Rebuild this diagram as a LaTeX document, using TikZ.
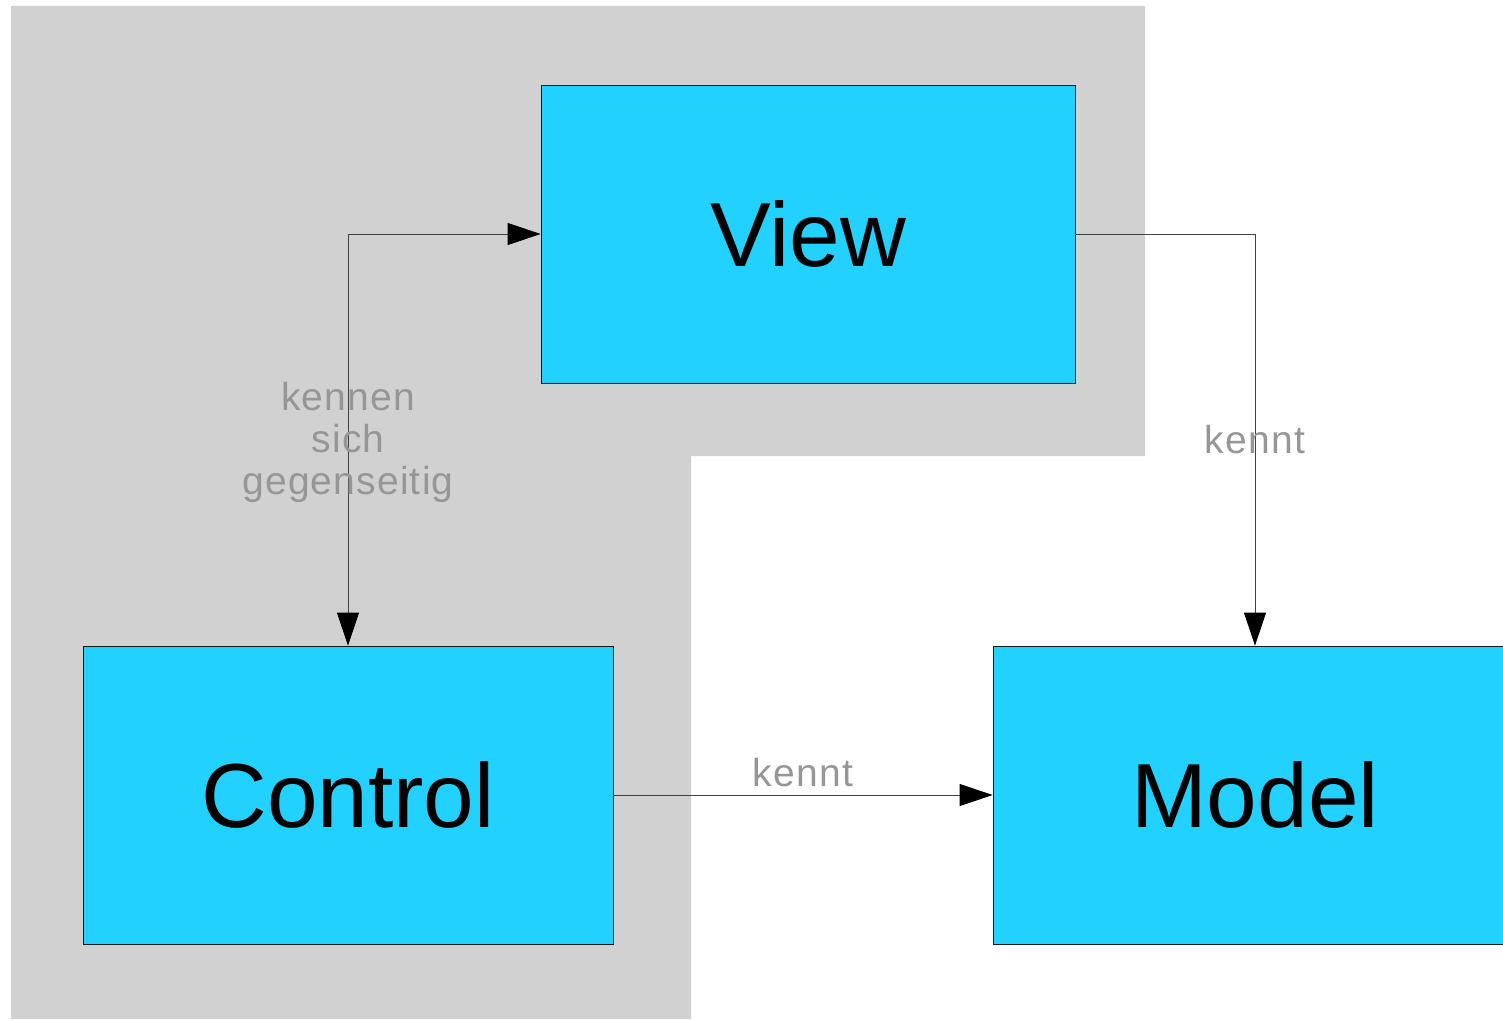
\documentclass[tikz,border=0pt]{standalone}
\usepackage{fontspec}
\setmainfont{Liberation Sans}
\newfontfamily\lblfont[LetterSpace=3]{Liberation Sans}
\usepackage{tikz}
\usetikzlibrary{positioning,arrows.meta}
\definecolor{boxblue}{RGB}{35,209,255}
\definecolor{bggray}{RGB}{209,209,209}
\definecolor{lblgray}{RGB}{150,150,150}
\tikzstyle{part} = [rectangle, inner sep=0pt, minimum width=530pt, minimum height=298pt, text centered, fill=boxblue, draw=black!90, line width=0.8pt, font=\fontsize{91}{100}\selectfont]
\tikzstyle{lbl} = [text=lblgray, align=center, inner sep=0pt, font=\lblfont\fontsize{39}{42}\selectfont]
\tikzstyle{connect} = [line width=0.8pt, draw=black!75, -{Triangle[length=33pt,width=22pt,black]}]

\begin{document}
\begin{tikzpicture}[x=1pt,y=-1pt]
			\useasboundingbox (0,0) rectangle (1503,1019);
			\fill [bggray] (11,6) -- (1145,6) -- (1145,456) -- (691,456) -- (691,1019) -- (11,1019) -- cycle;
			\node (view) [part, minimum width=534pt] at (808,234) {View};
			\node (control) [part] at (348,795) {Control};
			\node (model) [part, minimum width=524pt] at (1255,795) {Model};
			%-----------------------------------------------
			%-----------------------------------------------
			\draw [connect, {Triangle[length=33pt,width=22pt,black]}-{Triangle[length=33pt,width=22pt,black]}] (control.north) |- node (lblcv) [lbl, pos=0.25, yshift=-3pt] {kennen\\sich\\gegenseitig} (view.west);
			\draw [connect] (view.east) -| node (lblvm) [lbl, pos=0.75] {kennt} (model.north);
			\draw [connect] (control.east) -- node (lblcm) [lbl, above=8pt] {kennt} (model.west);
			\end{tikzpicture}
\end{document}
